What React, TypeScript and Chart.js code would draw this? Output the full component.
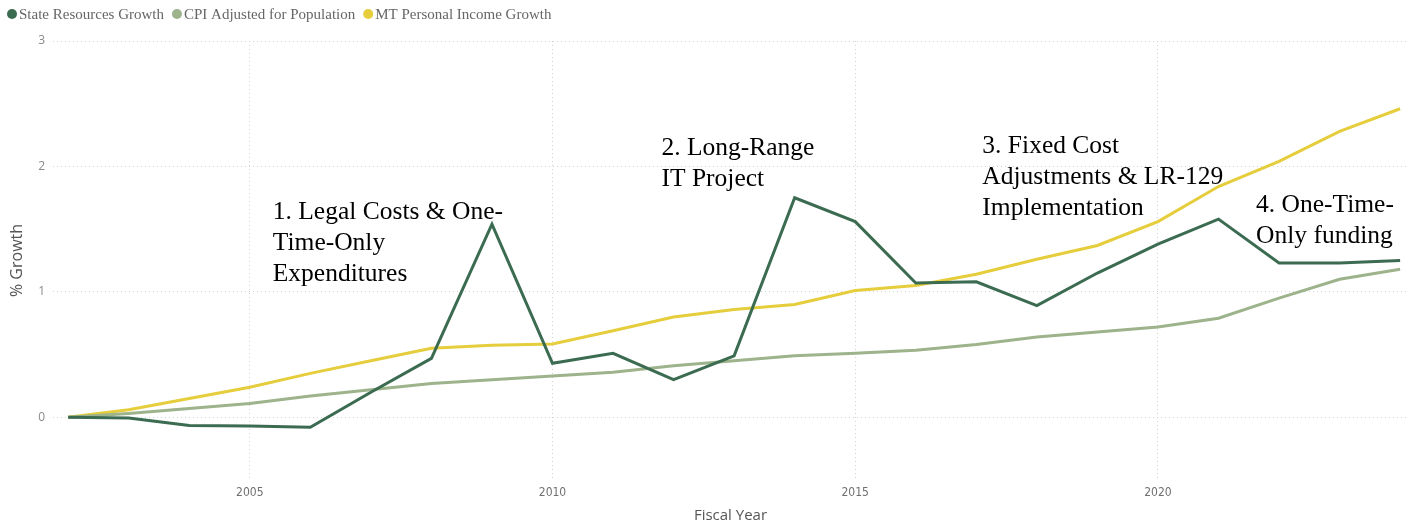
import React, { useEffect, useRef } from "react";
import { Chart, registerables } from "chart.js";

Chart.register(...registerables);

const years = [2002, 2003, 2004, 2005, 2006, 2007, 2008, 2009, 2010, 2011, 2012, 2013, 2014, 2015, 2016, 2017, 2018, 2019, 2020, 2021, 2022, 2023, 2024];
const stateResources = [0, -0.005, -0.065, -0.07, -0.08, 0.2, 0.47, 1.54, 0.43, 0.51, 0.3, 0.49, 1.75, 1.56, 1.07, 1.08, 0.89, 1.15, 1.38, 1.58, 1.23, 1.23, 1.25];
const cpiAdjusted = [0, 0.03, 0.07, 0.11, 0.17, 0.22, 0.27, 0.3, 0.33, 0.36, 0.41, 0.45, 0.49, 0.51, 0.535, 0.58, 0.64, 0.68, 0.72, 0.79, 0.95, 1.1, 1.18];
const mtIncome = [0, 0.06, 0.15, 0.24, 0.35, 0.45, 0.55, 0.575, 0.585, 0.69, 0.8, 0.86, 0.9, 1.01, 1.05, 1.14, 1.26, 1.37, 1.56, 1.84, 2.04, 2.28, 2.46];
const seriesNames = ["State Resources Growth", "CPI Adjusted for Population", "MT Personal Income Growth"];
const xTickValues = [2005, 2010, 2015, 2020];
const yTickValues = [0, 1, 2, 3];
const xTitle = "Fiscal Year";
const yTitle = "% Growth";

const annotationLines = [
  ["1. Legal Costs & One-", "Time-Only", "Expenditures"],
  ["2. Long-Range", "IT Project"],
  ["3. Fixed Cost", "Adjustments & LR-129", "Implementation"],
  ["4. One-Time-", "Only funding"],
];
const annotationYears = [2005.38, 2011.8, 2017.1, 2021.62];
const annotationValues = [1.58, 2.09, 2.11, 1.64];

const COLORS = ["#3b6b50", "#9db38b", "#e5cd3c"];

export default function App() {
  const canvasRef = useRef<HTMLCanvasElement | null>(null);

  useEffect(() => {
    const canvas = canvasRef.current;
    if (!canvas) return;
    const series = [stateResources, cpiAdjusted, mtIncome];

    const legendPlugin = {
      id: "customLegend",
      afterDraw(chart: any) {
        const ctx = chart.ctx;
        ctx.save();
        ctx.font = '15px "Liberation Serif", serif';
        ctx.textBaseline = "middle";
        let cx = 12;
        const cy = 14;
        chart.data.datasets.forEach((ds: any) => {
          ctx.beginPath();
          ctx.arc(cx, cy, 5, 0, Math.PI * 2);
          ctx.fillStyle = ds.borderColor;
          ctx.fill();
          ctx.fillStyle = "#666666";
          ctx.textAlign = "left";
          const tx = cx + 7;
          ctx.fillText(ds.label, tx, cy + 1);
          cx = tx + ctx.measureText(ds.label).width + 13;
        });
        ctx.restore();
      },
    };

    const annotationPlugin = {
      id: "annotations",
      afterDatasetsDraw(chart: any) {
        const ctx = chart.ctx;
        const xs = chart.scales.x;
        const ys = chart.scales.y;
        ctx.save();
        ctx.font = '25.5px "Liberation Serif", serif';
        ctx.fillStyle = "#000000";
        ctx.textAlign = "left";
        ctx.textBaseline = "alphabetic";
        annotationLines.forEach((lines, i) => {
          const x = xs.getPixelForValue(annotationYears[i]);
          const y = ys.getPixelForValue(annotationValues[i]);
          lines.forEach((line, j) => {
            ctx.fillText(line, x, y + j * 31);
          });
        });
        ctx.restore();
      },
    };

    const chart = new Chart(canvas, {
      type: "line",
      data: {
        datasets: series.map((vals, i) => ({
          label: seriesNames[i],
          data: years.map((yr, k) => ({ x: yr, y: vals[k] })),
          borderColor: COLORS[i],
          backgroundColor: COLORS[i],
          borderWidth: 3,
          pointRadius: 0,
          tension: 0,
          fill: false,
        })),
      },
      options: {
        responsive: false,
        animation: false,
        layout: { padding: { top: 41, right: 13, left: 0, bottom: 0 } },
        plugins: {
          legend: { display: false },
          tooltip: { enabled: false },
        },
        scales: {
          x: {
            type: "linear",
            min: 2001.75,
            max: 2024.13,
            afterBuildTicks: (axis: any) => {
              axis.ticks = xTickValues.map((v) => ({ value: v }));
            },
            afterFit: (axis: any) => {
              axis.height = 45;
            },
            ticks: {
              callback: (v: any) => String(v),
              color: "#6f6f6f",
              font: { family: '"Liberation Sans Narrow", "DejaVu Sans Condensed", sans-serif', size: 12 },
              padding: 6,
              maxRotation: 0,
            },
            grid: { color: "#d2d2d2", drawTicks: false, lineWidth: 1 },
            border: { display: false, dash: [1, 3] },
            title: {
              display: true,
              text: xTitle,
              color: "#555555",
              font: { family: '"Open Sans", sans-serif', size: 15 },
              padding: { top: 0, bottom: 0 },
            },
          },
          y: {
            type: "linear",
            min: -0.5,
            max: 3,
            afterBuildTicks: (axis: any) => {
              axis.ticks = yTickValues.map((v) => ({ value: v }));
            },
            afterFit: (axis: any) => {
              axis.width = 53;
            },
            ticks: {
              callback: (v: any) => String(v),
              color: "#8a8a8a",
              font: { family: '"Open Sans", sans-serif', size: 12 },
              padding: 8,
            },
            grid: { color: "#d2d2d2", drawTicks: false, lineWidth: 1 },
            border: { display: false, dash: [1, 3] },
            title: {
              display: true,
              text: yTitle,
              color: "#555555",
              font: { family: '"Open Sans", sans-serif', size: 16 },
              padding: { top: 8, bottom: 0 },
            },
          },
        },
      },
      plugins: [legendPlugin, annotationPlugin],
    });

    return () => chart.destroy();
  }, []);

  return (
    <div style={{ position: "absolute", left: 0, top: 0, width: 1421, height: 525, background: "#ffffff" }}>
      <canvas ref={canvasRef} width={1421} height={525} style={{ width: 1421, height: 525, display: "block" }} />
    </div>
  );
}
